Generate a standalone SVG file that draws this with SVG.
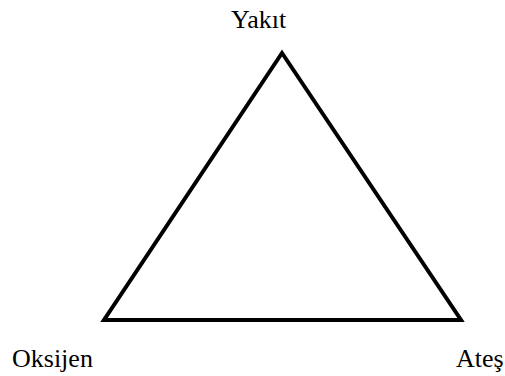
<svg xmlns="http://www.w3.org/2000/svg" width="505" height="376" viewBox="0 0 505 376">
<style>
text{font-family:"Liberation Serif","Times New Roman",serif;font-size:26px;fill:#000}
.edge{fill:none;stroke:#000;stroke-width:4;stroke-linejoin:miter}
</style>
<rect width="505" height="376" fill="#fff"/>
<g id="connectors">
<polygon class="edge" points="282,53 104,320 461,320"/>
</g>
<g id="node-yakit"><text x="231" y="28">Yakıt</text></g>
<g id="node-oksijen"><text x="12" y="367">Oksijen</text></g>
<g id="node-ates"><text x="456" y="367">Ateş</text></g>
</svg>
